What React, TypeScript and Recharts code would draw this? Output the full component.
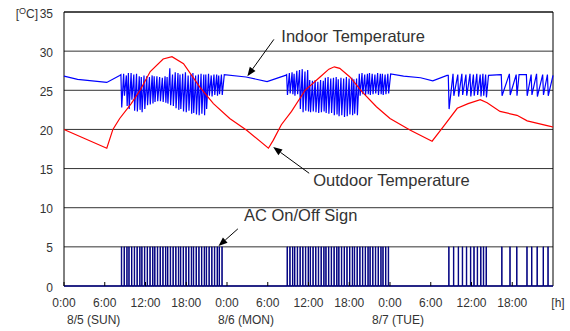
import {
  CartesianGrid,
  ComposedChart,
  Line,
  ReferenceDot,
  ReferenceLine,
  XAxis,
  YAxis,
} from "recharts";

// axis ticks
const hourTicks = [0, 6, 12, 18, 24, 30, 36, 42, 48, 54, 60, 66, 72];
const hourLabels = ["0:00", "6:00", "12:00", "18:00", "0:00", "6:00", "12:00", "18:00", "0:00", "6:00", "12:00", "18:00", "[h]"];
const dayLabels = ["8/5 (SUN)", "8/6 (MON)", "8/7 (TUE)"];
const tempTicks = [0, 5, 10, 15, 20, 25, 30, 35];

// outdoor temperature [hour, degC]
const outdoor = [
  [0, 20.0], [6.3, 17.6], [7.2, 20.0], [8.2, 21.4], [9.9, 23.3], [11.2, 25.0], [12.7, 27.4],
  [14.6, 29.0], [15.9, 29.3], [17.6, 28.4], [20.0, 25.4], [22.0, 23.3], [24.4, 21.4], [26.9, 19.9],
  [30.1, 17.6], [30.8, 18.6], [32.0, 20.6], [33.5, 22.3], [35.5, 25.0], [37.7, 26.7], [39.0, 27.7],
  [39.8, 28.0], [40.6, 27.8], [42.1, 26.7], [43.9, 24.8], [46.0, 22.9], [48.0, 21.4], [51.0, 19.9],
  [54.2, 18.5], [55.8, 20.3], [57.9, 22.7], [59.5, 23.3], [61.3, 23.8], [62.3, 23.4], [64.2, 22.3],
  [66.7, 21.8], [68.2, 21.1], [71.6, 20.4], [72, 20.3],
];

// indoor temperature while the AC is off [hour, degC]
const indoorIdle = [
  [0, 26.8], [2, 26.4], [6.3, 26.0], [8.2, 26.9], [23.6, 27.0], [26.8, 26.7], [29.9, 26.1],
  [32.6, 26.9], [48.1, 27.1], [50, 26.8], [52.5, 26.6], [54.3, 26.2], [56.4, 26.9], [62.5, 26.9],
  [64.3, 27.0], [67.0, 27.0], [68.0, 27.0], [72, 26.9],
];

// AC cycles: hour of each dip, indoor low at the dip, indoor high just before it
const dips1 = [8.5, 8.9, 9.3, 9.6, 10.0, 10.4, 10.8, 11.2, 11.5, 11.9, 12.3, 12.7, 13.1, 13.4, 13.8, 14.2, 14.6, 15.0, 15.3, 15.7, 16.1, 16.5, 16.9, 17.2, 17.6, 18.0, 18.4, 18.8, 19.1, 19.5, 19.9, 20.3, 20.7, 21.0, 21.4, 21.8, 22.2, 22.6, 22.9, 23.3];
const lows1 = [22.8, 24.3, 23.0, 22.6, 23.8, 22.4, 22.3, 22.5, 22.2, 22.6, 23.1, 23.2, 23.3, 23.5, 23.6, 23.6, 23.5, 23.4, 23.3, 23.1, 23.0, 22.7, 22.5, 22.6, 22.3, 22.2, 22.4, 22.0, 22.1, 21.9, 21.8, 22.0, 21.8, 22.6, 24.3, 24.2, 24.4, 24.3, 24.5, 24.4];
const highs1 = [27.0, 27.1, 26.9, 27.2, 27.2, 27.0, 27.1, 26.8, 26.7, 26.9, 26.8, 26.7, 26.9, 26.8, 26.8, 26.7, 26.6, 26.8, 26.7, 27.8, 27.0, 27.3, 27.2, 27.0, 27.1, 27.3, 26.9, 27.0, 27.2, 26.9, 27.0, 27.1, 27.0, 27.0, 27.1, 26.9, 27.0, 27.0, 26.9, 27.0];

const dips2 = [32.9, 33.3, 33.7, 34.0, 34.4, 34.8, 35.2, 35.6, 36.0, 36.3, 36.7, 37.1, 37.5, 37.9, 38.3, 38.6, 39.0, 39.4, 39.8, 40.2, 40.5, 40.9, 41.3, 41.7, 42.1, 42.5, 42.8, 43.2, 43.6, 44.0, 44.4, 44.8, 45.1, 45.5, 45.9, 46.3, 46.7, 47.0, 47.4, 47.8];
const lows2 = [24.4, 24.6, 24.5, 24.3, 24.5, 22.6, 22.2, 22.4, 22.3, 22.2, 22.3, 22.2, 22.1, 22.2, 22.3, 22.1, 22.0, 22.1, 21.8, 21.9, 21.7, 21.8, 21.6, 21.7, 21.9, 21.8, 22.0, 21.8, 24.3, 24.5, 24.4, 24.5, 24.4, 24.5, 24.6, 24.4, 24.5, 24.4, 24.5, 24.6];
const highs2 = [27.0, 27.2, 27.3, 27.1, 27.5, 27.6, 27.7, 27.4, 27.6, 26.3, 26.2, 26.3, 26.1, 26.3, 26.2, 26.6, 26.7, 26.5, 26.6, 26.7, 26.4, 26.6, 26.5, 26.7, 26.5, 26.6, 26.4, 26.5, 27.1, 27.2, 27.0, 27.1, 27.2, 27.1, 27.0, 27.2, 27.1, 27.1, 27.0, 27.1];

const dips3 = [56.7, 57.4, 58.1, 58.7, 59.3, 59.9, 60.4, 60.9, 61.4, 61.8, 62.2];
const lows3 = [22.6, 24.3, 24.2, 24.4, 24.3, 24.2, 24.3, 24.4, 24.2, 24.3, 24.1];
const highs3 = [26.9, 27.1, 27.0, 27.1, 27.0, 27.1, 27.0, 27.1, 27.0, 27.1, 27.0];

const dips4 = [64.5, 65.7, 66.7];
const lows4 = [24.3, 24.4, 24.3];
const highs4 = [27.0, 27.1, 27.0];

const dips5 = [68.2, 68.9, 69.7, 70.6, 71.3];
const lows5 = [24.3, 24.4, 24.2, 24.4, 24.3];
const highs5 = [27.0, 27.0, 27.1, 27.0, 27.0];

const runs = [
  { dips: dips1, lows: lows1, highs: highs1 },
  { dips: dips2, lows: lows2, highs: highs2 },
  { dips: dips3, lows: lows3, highs: highs3 },
  { dips: dips4, lows: lows4, highs: highs4 },
  { dips: dips5, lows: lows5, highs: highs5 },
];

const DROP = 0.12; // indoor fall time before each dip, hours
const PULSE = 0.06; // AC on-time before each dip, hours
const byHour = (a: { h: number }, b: { h: number }) => a.h - b.h;

const outdoorData = outdoor.map(([h, t]) => ({ h, t }));
const indoorData = [
  ...indoorIdle.map(([h, t]) => ({ h, t })),
  ...runs.flatMap((r) =>
    r.dips.flatMap((d, i) => [
      { h: d - DROP, t: r.highs[i] },
      { h: d, t: r.lows[i] },
    ]),
  ),
].sort(byHour);
const acData = [
  { h: 0, v: 0 },
  ...runs.flatMap((r) => r.dips.flatMap((d) => [{ h: d - PULSE, v: 5 }, { h: d, v: 0 }])),
  { h: 72, v: 0 },
].sort(byHour);

const FONT = "'Liberation Sans', Arial, sans-serif";
const TEXT = "#333";
const dayOffset = [3, -9, -18];

const XTick = ({ x, y, payload }: any) => {
  const v = payload.value as number;
  const i = hourTicks.indexOf(v);
  const last = v === 72;
  return (
    <g>
      {!last && <line x1={x} x2={x} y1={y} y2={y - 4} stroke="#000" />}
      <text x={last ? x + 5 : x} y={y + 21} textAnchor="middle" fontSize={12} fontFamily={FONT} fill={TEXT}>
        {hourLabels[i]}
      </text>
      {v % 24 === 0 && !last && (
        <text x={x + dayOffset[v / 24]} y={y + 37.5} textAnchor="start" fontSize={12} fontFamily={FONT} fill={TEXT}>
          {dayLabels[v / 24]}
        </text>
      )}
    </g>
  );
};

const YTick = ({ x, y, payload }: any) => (
  <g>
    <text x={x - 11} y={y + 5.5} textAnchor="end" fontSize={12} fontFamily={FONT} fill={TEXT}>
      {payload.value}
    </text>
    {payload.value === 35 && (
      <text x={x - 26} y={y + 5.5} textAnchor="end" fontSize={12} fontFamily={FONT} fill={TEXT}>
        [<tspan fontSize={9} dy={-4}>O</tspan>
        <tspan dy={4}>C]</tspan>
      </text>
    )}
  </g>
);

const Arrow = (p: any) => {
  const { x1, y1, x2, y2 } = p;
  const ang = Math.atan2(y2 - y1, x2 - x1);
  const L = 9;
  const W = 3.5;
  const bx = x2 - L * Math.cos(ang);
  const by = y2 - L * Math.sin(ang);
  const nx = -Math.sin(ang) * W;
  const ny = Math.cos(ang) * W;
  return (
    <g>
      <line x1={x1} y1={y1} x2={bx} y2={by} stroke="#000" strokeWidth={1} />
      <polygon points={`${x2},${y2} ${bx + nx},${by + ny} ${bx - nx},${by - ny}`} fill="#000" />
    </g>
  );
};

const note = (text: string) => (p: any) => (
  <text x={p.cx} y={p.cy} fontSize={16.5} fontFamily={FONT} fill={TEXT}>
    {text}
  </text>
);

export default function App() {
  return (
    <div style={{ position: "fixed", left: 0, top: 0, width: 570, height: 331, background: "#fff" }}>
      <ComposedChart width={570} height={331} margin={{ top: 12, right: 17, bottom: 0, left: 0 }}>
        <CartesianGrid vertical={false} stroke="#333" />
        <XAxis
          type="number"
          dataKey="h"
          domain={[0, 72]}
          ticks={hourTicks}
          interval={0}
          height={45}
          tickSize={0}
          tickMargin={0}
          tickLine={false}
          axisLine={{ stroke: "#000080" }}
          tick={(p: any) => <XTick {...p} />}
        />
        <YAxis
          type="number"
          domain={[0, 35]}
          ticks={tempTicks}
          interval={0}
          width={64}
          tickSize={0}
          tickMargin={0}
          tickLine={false}
          axisLine={false}
          tick={(p: any) => <YTick {...p} />}
        />
        <ReferenceLine x={0} stroke="#000" />
        <ReferenceLine x={72} stroke="#000" />
        <ReferenceLine y={35} stroke="#000" />

        <Line data={acData} dataKey="v" type="stepAfter" stroke="#000080" strokeWidth={1} dot={false} activeDot={false} isAnimationActive={false} />
        <Line data={indoorData} dataKey="t" type="linear" stroke="#0000ff" strokeWidth={1.2} dot={false} activeDot={false} isAnimationActive={false} />
        <Line data={outdoorData} dataKey="t" type="linear" stroke="#ff0000" strokeWidth={1.2} dot={false} activeDot={false} isAnimationActive={false} />

        <ReferenceLine segment={[{ x: 30.9, y: 31.5 }, { x: 27.0, y: 26.8 }]} shape={Arrow} />
        <ReferenceLine segment={[{ x: 36.1, y: 14.4 }, { x: 30.8, y: 17.75 }]} shape={Arrow} />
        <ReferenceLine segment={[{ x: 25.6, y: 7.3 }, { x: 22.75, y: 5.1 }]} shape={Arrow} />
        <ReferenceDot x={32.0} y={31.2} shape={note("Indoor Temperature")} />
        <ReferenceDot x={36.7} y={12.8} shape={note("Outdoor Temperature")} />
        <ReferenceDot x={26.5} y={8.3} shape={note("AC On/Off Sign")} />
      </ComposedChart>
    </div>
  );
}
